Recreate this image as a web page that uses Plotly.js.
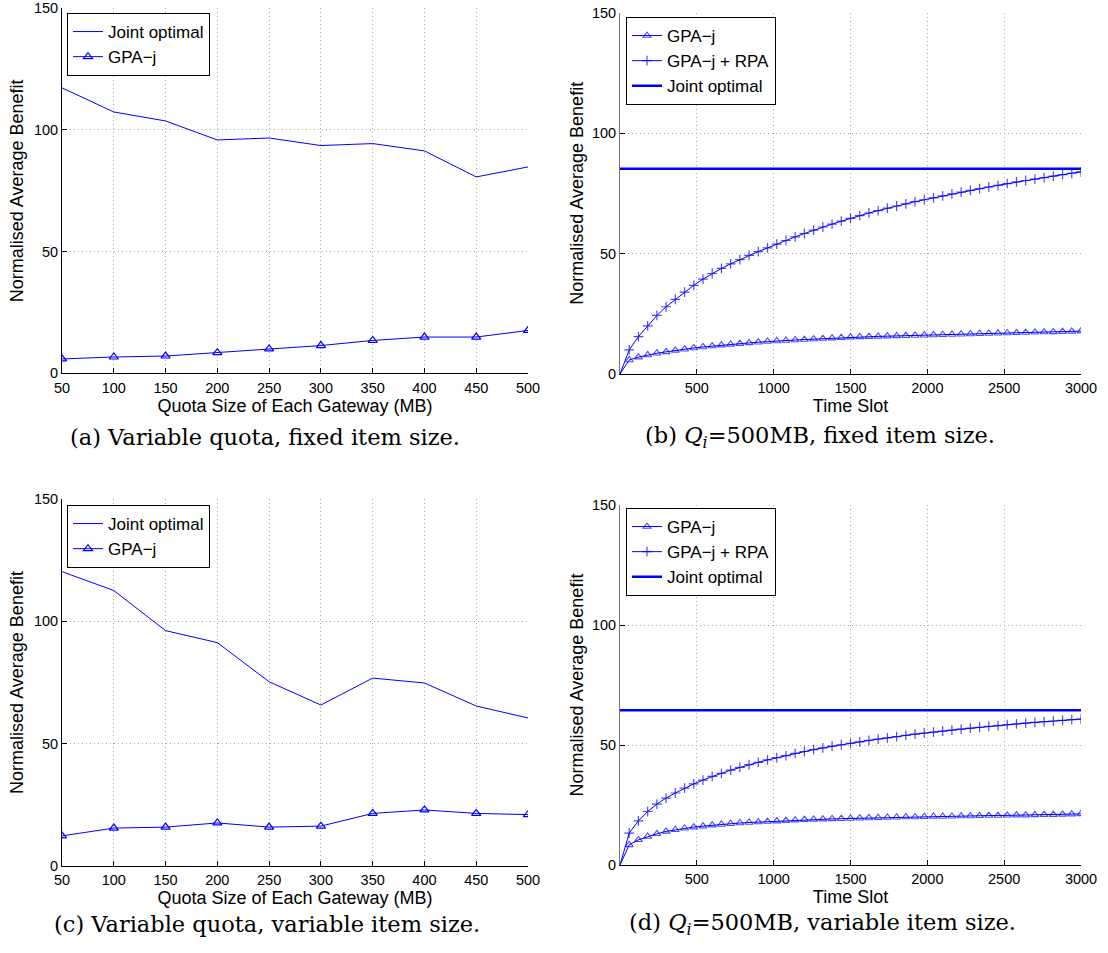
<!DOCTYPE html>
<html>
<head>
<meta charset="utf-8">
<script src="https://cdn.plot.ly/plotly-3.0.1.min.js"></script>
<style>html,body{margin:0;padding:0;background:#fff;}#chart{width:1108px;height:953px;}</style>
</head>
<body>
<div id="chart"></div>
<script>
// ---- Data ----
const quotaSizes = [50, 100, 150, 200, 250, 300, 350, 400, 450, 500];
const jointA = [117.3, 107.4, 103.7, 95.9, 96.7, 93.6, 94.4, 91.4, 80.7, 84.8];
const gpaA   = [5.9, 6.7, 7.1, 8.5, 10.0, 11.4, 13.5, 14.9, 14.9, 17.6];
const jointC = [120.3, 112.6, 96.2, 91.3, 75.3, 65.8, 76.8, 74.8, 65.4, 60.5];
const gpaC   = [12.3, 15.5, 15.9, 17.6, 15.9, 16.3, 21.5, 22.9, 21.5, 21.0];

const timeSlots = [0, 60, 120, 180, 240, 300, 360, 420, 480, 540, 600, 660, 720, 780, 840, 900, 960, 1020, 1080, 1140,
  1200, 1260, 1320, 1380, 1440, 1500, 1560, 1620, 1680, 1740, 1800, 1860, 1920, 1980, 2040, 2100, 2160, 2220, 2280, 2340,
  2400, 2460, 2520, 2580, 2640, 2700, 2760, 2820, 2880, 2940, 3000];
const gpaB = [0, 5.8, 7.0, 7.9, 8.6, 9.2, 9.8, 10.3, 10.8, 11.2, 11.6, 12.0, 12.3, 12.6, 12.9, 13.2, 13.5, 13.7, 13.9, 14.1,
  14.3, 14.5, 14.7, 14.9, 15.1, 15.3, 15.4, 15.5, 15.6, 15.7, 15.8, 15.9, 16.0, 16.1, 16.2, 16.3, 16.4, 16.5, 16.6, 16.7,
  16.8, 16.9, 17.0, 17.1, 17.2, 17.3, 17.4, 17.5, 17.6, 17.7, 17.8];
const rpaB = [0, 10.0, 15.5, 20.0, 24.3, 27.9, 31.0, 34.0, 36.8, 39.4, 41.7, 43.8, 45.7, 47.5, 49.2, 50.8, 52.3, 53.9, 55.4, 56.9,
  58.3, 59.7, 61.0, 62.2, 63.4, 64.6, 65.7, 66.8, 67.8, 68.8, 69.7, 70.6, 71.5, 72.3, 73.1, 73.9, 74.7, 75.5, 76.2, 76.9,
  77.6, 78.3, 79.0, 79.7, 80.3, 80.9, 81.5, 82.1, 82.7, 83.3, 83.9];
const gpaD = [0, 8.4, 10.5, 11.9, 13.0, 14.0, 14.7, 15.3, 15.8, 16.2, 16.6, 16.9, 17.2, 17.5, 17.7, 17.9, 18.1, 18.3, 18.5, 18.7,
  18.9, 19.0, 19.1, 19.2, 19.3, 19.4, 19.5, 19.6, 19.7, 19.8, 19.9, 20.0, 20.0, 20.1, 20.2, 20.2, 20.3, 20.4, 20.4, 20.5,
  20.6, 20.6, 20.7, 20.8, 20.8, 20.9, 21.0, 21.0, 21.1, 21.2, 21.3];
const rpaD = [0, 13.3, 18.4, 22.3, 25.4, 27.9, 30.0, 32.0, 33.8, 35.4, 36.9, 38.2, 39.5, 40.7, 41.8, 42.8, 43.8, 44.7, 45.6, 46.5,
  47.3, 48.1, 48.8, 49.5, 50.1, 50.7, 51.3, 51.9, 52.5, 53.0, 53.5, 54.0, 54.5, 55.0, 55.4, 55.8, 56.2, 56.6, 57.0, 57.4,
  57.8, 58.1, 58.5, 58.8, 59.1, 59.4, 59.7, 60.0, 60.3, 60.6, 60.8];
const jointOptB = 85.2;
const jointOptD = 64.5;
const timeRange = [0, 3000];

const yTicks = [0, 50, 100, 150];
const quotaTicks = [50, 100, 150, 200, 250, 300, 350, 400, 450, 500];
const timeTicks = [500, 1000, 1500, 2000, 2500, 3000];

const captions = [
  '(a) Variable quota, fixed item size.',
  '(b) <i>Q</i><sub><i>i</i></sub>=500MB, fixed item size.',
  '(c) Variable quota, variable item size.',
  '(d) <i>Q</i><sub><i>i</i></sub>=500MB, variable item size.'
];

// ---- Styling ----
const BLUE = '#0000ff';
const SANS = 'Liberation Sans, Arial, sans-serif';
const SERIF = 'DejaVu Serif, serif';
const W = 1108, H = 953;
const px = v => v / W;
const py = v => 1 - v / H;

const markerSizes = timeSlots.map((t, i) => i === 0 ? 0 : 7);

const traces = [
  // (a)
  {x: quotaSizes, y: jointA, xaxis: 'x', yaxis: 'y', name: 'Joint optimal', mode: 'lines',
   line: {color: BLUE, width: 1}, legend: 'legend'},
  {x: quotaSizes, y: gpaA, xaxis: 'x', yaxis: 'y', name: 'GPA\u2212j', mode: 'lines+markers',
   line: {color: BLUE, width: 1}, marker: {symbol: 'triangle-up-open', size: 8, color: BLUE, line: {width: 1.2, color: BLUE}}, legend: 'legend'},
  // (b)
  {x: timeSlots, y: gpaB, xaxis: 'x2', yaxis: 'y2', name: 'GPA\u2212j', mode: 'lines+markers',
   line: {color: BLUE, width: 1}, marker: {symbol: 'triangle-up-open', size: markerSizes, color: BLUE, line: {width: 1.1, color: BLUE}}, legend: 'legend2'},
  {x: timeSlots, y: rpaB, xaxis: 'x2', yaxis: 'y2', name: 'GPA\u2212j + RPA', mode: 'lines+markers',
   line: {color: BLUE, width: 1}, marker: {symbol: 'cross-thin-open', size: markerSizes, color: BLUE, line: {width: 1.2, color: BLUE}}, legend: 'legend2'},
  {x: timeRange, y: [jointOptB, jointOptB], xaxis: 'x2', yaxis: 'y2', name: 'Joint optimal', mode: 'lines',
   line: {color: BLUE, width: 2.5}, legend: 'legend2'},
  // (c)
  {x: quotaSizes, y: jointC, xaxis: 'x3', yaxis: 'y3', name: 'Joint optimal', mode: 'lines',
   line: {color: BLUE, width: 1}, legend: 'legend3'},
  {x: quotaSizes, y: gpaC, xaxis: 'x3', yaxis: 'y3', name: 'GPA\u2212j', mode: 'lines+markers',
   line: {color: BLUE, width: 1}, marker: {symbol: 'triangle-up-open', size: 8, color: BLUE, line: {width: 1.2, color: BLUE}}, legend: 'legend3'},
  // (d)
  {x: timeSlots, y: gpaD, xaxis: 'x4', yaxis: 'y4', name: 'GPA\u2212j', mode: 'lines+markers',
   line: {color: BLUE, width: 1}, marker: {symbol: 'triangle-up-open', size: markerSizes, color: BLUE, line: {width: 1.1, color: BLUE}}, legend: 'legend4'},
  {x: timeSlots, y: rpaD, xaxis: 'x4', yaxis: 'y4', name: 'GPA\u2212j + RPA', mode: 'lines+markers',
   line: {color: BLUE, width: 1}, marker: {symbol: 'cross-thin-open', size: markerSizes, color: BLUE, line: {width: 1.2, color: BLUE}}, legend: 'legend4'},
  {x: timeRange, y: [jointOptD, jointOptD], xaxis: 'x4', yaxis: 'y4', name: 'Joint optimal', mode: 'lines',
   line: {color: BLUE, width: 2.5}, legend: 'legend4'}
];

function axisBase(extra) {
  return Object.assign({
    showline: true, linecolor: '#000', linewidth: 1,
    ticks: 'inside', ticklen: 5, tickcolor: '#000', tickwidth: 1,
    showgrid: true, gridcolor: '#a8a8a8', griddash: '1px,3px', gridwidth: 1,
    zeroline: false, fixedrange: true, ticklabeloverflow: 'allow',
    tickfont: {family: SANS, size: 14.5, color: '#000'}
  }, extra);
}
const xTitleFont = {family: SANS, size: 18, color: '#000'};

function xQuota(domain, anchor) {
  return axisBase({domain: domain, anchor: anchor, range: [49.999, 500.001], tickmode: 'array', tickvals: quotaTicks,
    ticklabelstandoff: 1,
    title: {text: 'Quota Size of Each Gateway (MB)', font: xTitleFont, standoff: 1}});
}
function xTime(domain, anchor) {
  return axisBase({domain: domain, anchor: anchor, range: [0, 3000.01], tickmode: 'array', tickvals: timeTicks,
    ticklabelstandoff: 1,
    title: {text: 'Time Slot', font: xTitleFont, standoff: 1}});
}
function yBen(domain, anchor, standoff, lineColor) {
  return axisBase({domain: domain, anchor: anchor, range: [-0.0001, 150.001], tickmode: 'array', tickvals: yTicks,
    linecolor: lineColor || '#000',
    title: {text: 'Normalised Average Benefit', font: xTitleFont, standoff: standoff}});
}

const domXL = [px(62), px(528)];
const domXR = [px(620), px(1081)];

function legendAt(left, top) {
  return {x: px(left), y: py(top), xanchor: 'left', yanchor: 'top', xref: 'paper', yref: 'paper',
    bgcolor: '#fff', bordercolor: '#000', borderwidth: 1,
    font: {family: SANS, size: 17, color: '#000'}, itemwidth: 30, tracegroupgap: 0,
    traceorder: 'normal'};
}

const annotations = [
  [265, 437], [820, 437], [267, 924], [822, 924]
].map((p, i) => ({
  text: captions[i], x: px(p[0]), y: py(p[1]), xref: 'paper', yref: 'paper',
  xanchor: 'center', yanchor: 'middle', showarrow: false,
  font: {family: SERIF, size: 22.5, color: '#000'}
}));

const layout = {
  width: W, height: H, autosize: false,
  margin: {l: 0, r: 0, t: 0, b: 0},
  paper_bgcolor: '#fff', plot_bgcolor: '#fff',
  showlegend: true,
  xaxis: xQuota(domXL, 'y'),
  yaxis: yBen([1 - 373.3 / H, 1 - 8.3 / H], 'x', 5),
  xaxis2: xTime(domXR, 'y2'),
  yaxis2: yBen([1 - 374 / H, 1 - 12.5 / H], 'x2', 3, '#777'),
  xaxis3: xQuota(domXL, 'y3'),
  yaxis3: yBen([1 - 866 / H, 1 - 499 / H], 'x3', 5),
  xaxis4: xTime(domXR, 'y4'),
  yaxis4: yBen([1 - 865 / H, 1 - 505 / H], 'x4', 3, '#777'),
  legend: legendAt(67, 13),
  legend2: legendAt(626, 17),
  legend3: legendAt(67, 505),
  legend4: legendAt(626, 508),
  annotations: annotations
};

Plotly.newPlot('chart', traces, layout, {staticPlot: true, displayModeBar: false});
</script>
</body>
</html>
